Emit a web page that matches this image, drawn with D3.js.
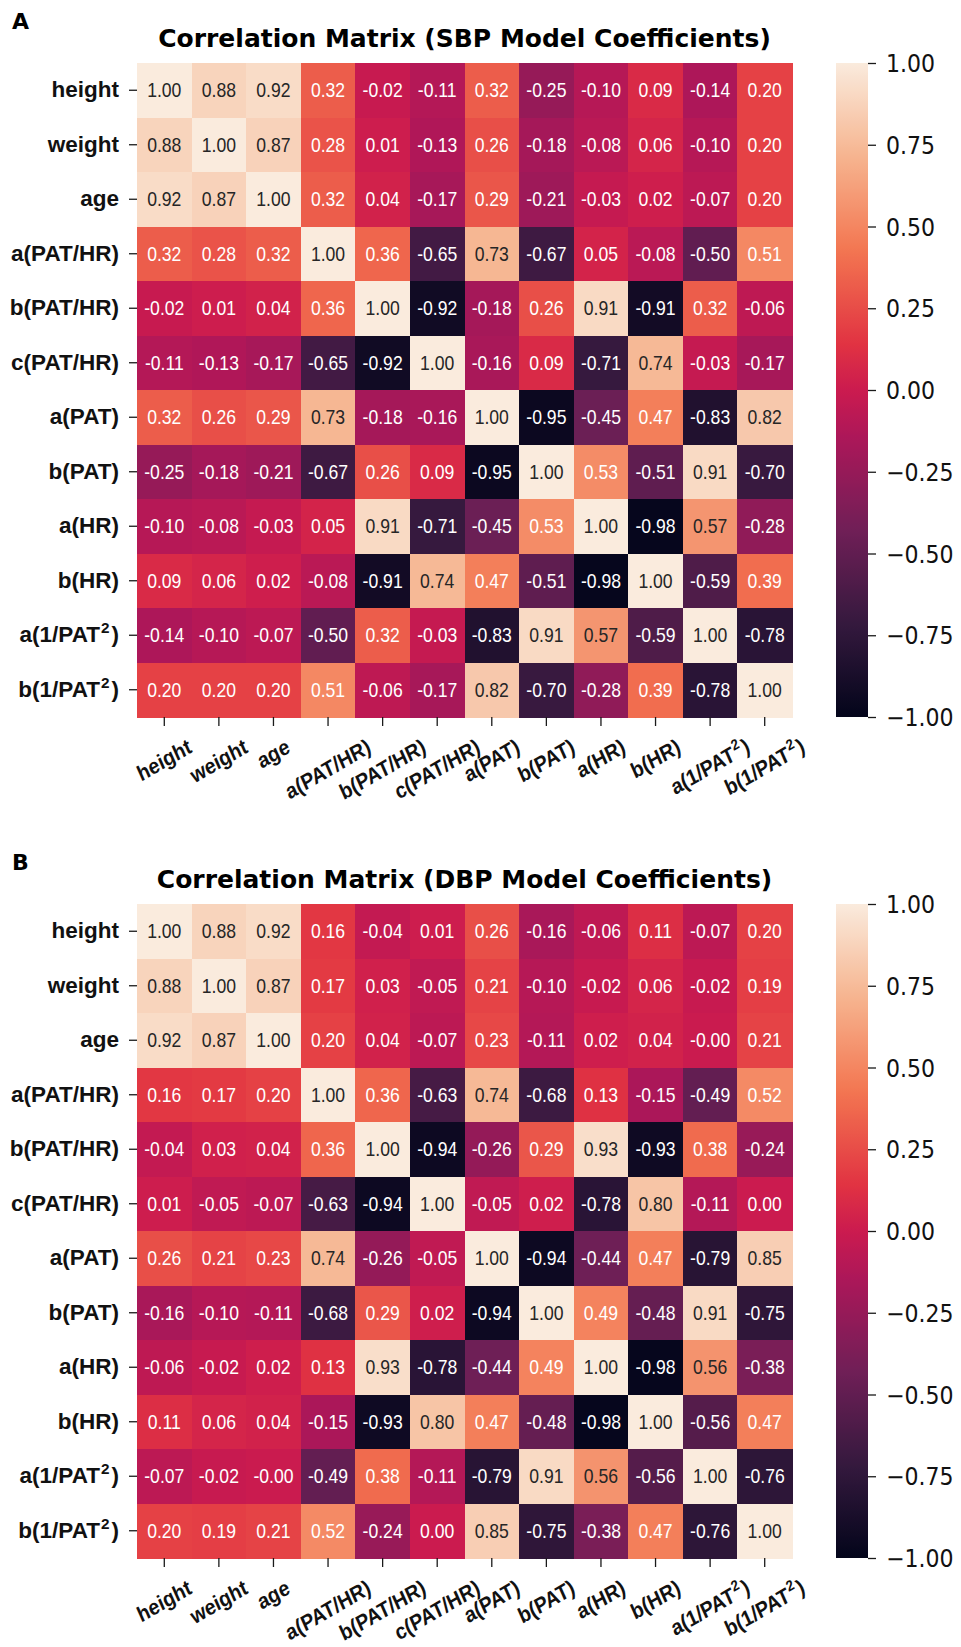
<!DOCTYPE html>
<html>
<head>
<meta charset="utf-8">
<script src="https://cdn.jsdelivr.net/npm/d3@7"></script>
<style>
  body { margin: 0; background: #fff; }
  svg { display: block; }
</style>
</head>
<body>
<div id="main"></div>
<script>
const labels = ['height', 'weight', 'age', 'a(PAT/HR)', 'b(PAT/HR)', 'c(PAT/HR)',
  'a(PAT)', 'b(PAT)', 'a(HR)', 'b(HR)', 'a(1/PAT²)', 'b(1/PAT²)']

const panelLetters = ['A', 'B']
const panelTitles = ['Correlation Matrix (SBP Model Coefficients)', 'Correlation Matrix (DBP Model Coefficients)']

const sbpValues = [
  [1.00, 0.88, 0.92, 0.32, -0.02, -0.11, 0.32, -0.25, -0.10, 0.09, -0.14, 0.20],
  [0.88, 1.00, 0.87, 0.28, 0.01, -0.13, 0.26, -0.18, -0.08, 0.06, -0.10, 0.20],
  [0.92, 0.87, 1.00, 0.32, 0.04, -0.17, 0.29, -0.21, -0.03, 0.02, -0.07, 0.20],
  [0.32, 0.28, 0.32, 1.00, 0.36, -0.65, 0.73, -0.67, 0.05, -0.08, -0.50, 0.51],
  [-0.02, 0.01, 0.04, 0.36, 1.00, -0.92, -0.18, 0.26, 0.91, -0.91, 0.32, -0.06],
  [-0.11, -0.13, -0.17, -0.65, -0.92, 1.00, -0.16, 0.09, -0.71, 0.74, -0.03, -0.17],
  [0.32, 0.26, 0.29, 0.73, -0.18, -0.16, 1.00, -0.95, -0.45, 0.47, -0.83, 0.82],
  [-0.25, -0.18, -0.21, -0.67, 0.26, 0.09, -0.95, 1.00, 0.53, -0.51, 0.91, -0.70],
  [-0.10, -0.08, -0.03, 0.05, 0.91, -0.71, -0.45, 0.53, 1.00, -0.98, 0.57, -0.28],
  [0.09, 0.06, 0.02, -0.08, -0.91, 0.74, 0.47, -0.51, -0.98, 1.00, -0.59, 0.39],
  [-0.14, -0.10, -0.07, -0.50, 0.32, -0.03, -0.83, 0.91, 0.57, -0.59, 1.00, -0.78],
  [0.20, 0.20, 0.20, 0.51, -0.06, -0.17, 0.82, -0.70, -0.28, 0.39, -0.78, 1.00]
]

const dbpValues = [
  [1.00, 0.88, 0.92, 0.16, -0.04, 0.01, 0.26, -0.16, -0.06, 0.11, -0.07, 0.20],
  [0.88, 1.00, 0.87, 0.17, 0.03, -0.05, 0.21, -0.10, -0.02, 0.06, -0.02, 0.19],
  [0.92, 0.87, 1.00, 0.20, 0.04, -0.07, 0.23, -0.11, 0.02, 0.04, -0.004, 0.21],
  [0.16, 0.17, 0.20, 1.00, 0.36, -0.63, 0.74, -0.68, 0.13, -0.15, -0.49, 0.52],
  [-0.04, 0.03, 0.04, 0.36, 1.00, -0.94, -0.26, 0.29, 0.93, -0.93, 0.38, -0.24],
  [0.01, -0.05, -0.07, -0.63, -0.94, 1.00, -0.05, 0.02, -0.78, 0.80, -0.11, 0.00],
  [0.26, 0.21, 0.23, 0.74, -0.26, -0.05, 1.00, -0.94, -0.44, 0.47, -0.79, 0.85],
  [-0.16, -0.10, -0.11, -0.68, 0.29, 0.02, -0.94, 1.00, 0.49, -0.48, 0.91, -0.75],
  [-0.06, -0.02, 0.02, 0.13, 0.93, -0.78, -0.44, 0.49, 1.00, -0.98, 0.56, -0.38],
  [0.11, 0.06, 0.04, -0.15, -0.93, 0.80, 0.47, -0.48, -0.98, 1.00, -0.56, 0.47],
  [-0.07, -0.02, -0.004, -0.49, 0.38, -0.11, -0.79, 0.91, 0.56, -0.56, 1.00, -0.76],
  [0.20, 0.19, 0.21, 0.52, -0.24, 0.00, 0.85, -0.75, -0.38, 0.47, -0.76, 1.00]
]

const colorbarTicks = [-1, -0.75, -0.5, -0.25, 0, 0.25, 0.5, 0.75, 1]

// seaborn "rocket" anchors
const rocketPos = [0, 0.143, 0.286, 0.429, 0.5, 0.571, 0.714, 0.857, 1]
const rocketHex = ['#03051a', '#35193e', '#701f57', '#ad1759', '#cb1b4f', '#e13342', '#f37651', '#f6b48f', '#faebdd']

const W = 961
const H = 1647
const panelOffset = 841
const heatLeft = 137
const heatRight = 792
const heatTop = 63
const heatBottom = 717
const cbarLeft = 836
const cbarRight = 868

const labelFont = 'Liberation Sans, Arial, sans-serif'
const dejavu = 'DejaVu Sans, sans-serif'
const xLabelSize = 22
const xLabelAngle = 27
const squeeze = 0.88

const rocket = d3.scaleLinear()
  .domain(rocketPos.map((p) => p * 2 - 1))
  .range(rocketHex)
  .interpolate(d3.interpolateRgb)
  .clamp(true)

function luminance (color) {
  const c = d3.rgb(color)
  const lin = (v) => {
    v /= 255
    return v <= 0.03928 ? v / 12.92 : Math.pow((v + 0.055) / 1.055, 2.4)
  }
  return 0.2126 * lin(c.r) + 0.7152 * lin(c.g) + 0.0722 * lin(c.b)
}

// label text with a real superscript 2
function writeLabel (textSel, label, size) {
  textSel.text(null)
  const parts = label.split('²')
  textSel.append('tspan').text(parts[0])
  if (parts.length > 1) {
    textSel.append('tspan')
      .attr('font-size', size * 0.68)
      .attr('dy', -size * 0.42)
      .attr('dx', 1)
      .text('2')
    textSel.append('tspan')
      .attr('dy', size * 0.42)
      .attr('dx', 2)
      .text(parts[1])
  }
}

const svg = d3.select('#main')
  .append('svg')
  .attr('width', W)
  .attr('height', H)

function drawPanel (index, values) {
  const g = svg.append('g').attr('transform', `translate(0, ${index * panelOffset})`)

  g.append('text')
    .attr('x', 12)
    .attr('y', 29)
    .attr('font-family', dejavu)
    .attr('font-weight', 'bold')
    .attr('font-size', 22)
    .attr('fill', '#000')
    .text(panelLetters[index])

  g.append('text')
    .attr('x', (heatLeft + heatRight) / 2)
    .attr('y', 47)
    .attr('text-anchor', 'middle')
    .attr('font-family', dejavu)
    .attr('font-weight', 'bold')
    .attr('font-size', 25)
    .attr('fill', '#000')
    .text(panelTitles[index])

  const x = d3.scaleBand().domain(labels).range([heatLeft, heatRight])
  const y = d3.scaleBand().domain(labels).range([heatTop, heatBottom])

  const cells = []
  values.forEach((row, i) => {
    row.forEach((v, j) => cells.push({ row: labels[i], col: labels[j], value: v }))
  })

  g.append('g')
    .selectAll('rect')
    .data(cells)
    .enter()
    .append('rect')
    .attr('x', (d) => x(d.col))
    .attr('y', (d) => y(d.row))
    .attr('width', x.bandwidth() + 0.5)
    .attr('height', y.bandwidth() + 0.5)
    .attr('shape-rendering', 'crispEdges')
    .style('fill', (d) => rocket(d.value))

  g.append('g')
    .selectAll('g')
    .data(cells)
    .enter()
    .append('g')
    .attr('transform', (d) => `translate(${x(d.col) + x.bandwidth() / 2}, ${y(d.row) + y.bandwidth() / 2}) scale(${squeeze}, 1)`)
    .append('text')
    .attr('text-anchor', 'middle')
    .attr('dy', '0.36em')
    .attr('font-family', labelFont)
    .attr('font-size', 20)
    .style('fill', (d) => (luminance(rocket(d.value)) > 0.408 ? '#262626' : '#ffffff'))
    .text((d) => d.value.toFixed(2))

  // y axis
  const yAxis = g.append('g')
    .attr('transform', `translate(${heatLeft}, 0)`)
    .call(d3.axisLeft(y).tickSize(8).tickPadding(10))
  yAxis.select('.domain').remove()
  yAxis.selectAll('.tick line').attr('stroke', '#1a1a1a').attr('stroke-width', 1.3)
  yAxis.selectAll('.tick text')
    .attr('font-family', labelFont)
    .attr('font-weight', 'bold')
    .attr('font-size', 22.5)
    .attr('fill', '#111')
    .each(function (d) { writeLabel(d3.select(this), d, 22.5) })

  // x axis, rotated labels centred under each tick
  const xAxis = g.append('g')
    .attr('transform', `translate(0, ${heatBottom})`)
    .call(d3.axisBottom(x).tickSize(9).tickPadding(0))
  xAxis.select('.domain').remove()
  xAxis.selectAll('.tick line').attr('stroke', '#1a1a1a').attr('stroke-width', 1.3)
  xAxis.selectAll('.tick text')
    .attr('font-family', labelFont)
    .attr('font-weight', 'bold')
    .attr('font-size', xLabelSize)
    .attr('fill', '#111')
    .attr('text-anchor', 'middle')
    .attr('x', 0)
    .attr('y', 0)
    .attr('dy', '0.33em')
    .each(function (d) { writeLabel(d3.select(this), d, xLabelSize) })
    .attr('transform', function () {
      const w = this.getComputedTextLength()
      const h = xLabelSize * 0.95
      const rad = xLabelAngle * Math.PI / 180
      const half = (w * Math.sin(rad) + h * Math.cos(rad)) / 2
      return `translate(0, ${19 + half}) scale(${squeeze}, 1) rotate(${-xLabelAngle})`
    })

  // colorbar
  const gradId = `rocket-grad-${index}`
  const grad = g.append('defs')
    .append('linearGradient')
    .attr('id', gradId)
    .attr('x1', 0).attr('y1', 1)
    .attr('x2', 0).attr('y2', 0)
  grad.selectAll('stop')
    .data(d3.range(0, 1.0001, 0.01))
    .enter()
    .append('stop')
    .attr('offset', (d) => d)
    .attr('stop-color', (d) => rocket(d * 2 - 1))

  g.append('rect')
    .attr('x', cbarLeft)
    .attr('y', heatTop)
    .attr('width', cbarRight - cbarLeft)
    .attr('height', heatBottom - heatTop)
    .style('fill', `url(#${gradId})`)

  const cScale = d3.scaleLinear().domain([-1, 1]).range([heatBottom, heatTop])
  const cAxis = g.append('g')
    .attr('transform', `translate(${cbarRight}, 0)`)
    .call(d3.axisRight(cScale).tickValues(colorbarTicks).tickSize(8).tickFormat(d3.format('.2f')))
  cAxis.select('.domain').remove()
  cAxis.selectAll('.tick line').attr('stroke', '#1a1a1a').attr('stroke-width', 1.3)
  cAxis.selectAll('.tick text')
    .attr('font-family', dejavu)
    .attr('font-size', 24)
    .attr('fill', '#111')
    .attr('x', 0)
    .attr('dy', '0.36em')
    .attr('transform', 'translate(18, 0) scale(0.92, 1)')
}

drawPanel(0, sbpValues)
drawPanel(1, dbpValues)
</script>
</body>
</html>
